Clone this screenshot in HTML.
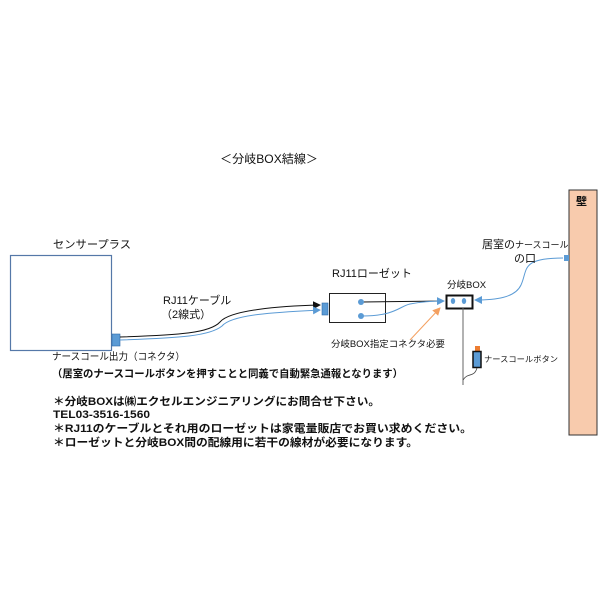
<!DOCTYPE html>
<html><head><meta charset="utf-8"><style>
body{margin:0;background:#fff}
svg text{font-family:"Liberation Sans","Noto Sans CJK JP",sans-serif;fill:#111}
.b{font-weight:bold}
</style></head><body>
<svg width="600" height="600" viewBox="0 0 600 600" xmlns="http://www.w3.org/2000/svg">
<defs>
<marker id="ab" markerWidth="8" markerHeight="8" refX="7" refY="4" orient="auto" markerUnits="userSpaceOnUse"><path d="M0,0 L8,4 L0,8z" fill="#111"/></marker>
<marker id="abl" markerWidth="8" markerHeight="8" refX="7" refY="4" orient="auto" markerUnits="userSpaceOnUse"><path d="M0,0 L8,4 L0,8z" fill="#5b9bd5"/></marker>
<marker id="ao" markerWidth="8" markerHeight="8" refX="7" refY="4" orient="auto" markerUnits="userSpaceOnUse"><path d="M0,0 L8,4 L0,8z" fill="#f4a060"/></marker>
</defs>
<text x="220" y="163" font-size="12" textLength="98" lengthAdjust="spacingAndGlyphs">＜分岐BOX結線＞</text>
<rect x="569" y="190" width="28" height="245" fill="#f8cbad" stroke="#333" stroke-width="1"/>
<text x="576" y="205" font-size="11" class="b">壁</text>
<text x="53" y="248" font-size="11" textLength="78" lengthAdjust="spacingAndGlyphs">センサープラス</text>
<rect x="10.5" y="255.5" width="101" height="95" fill="#fff" stroke="#5578a8" stroke-width="1.2"/>
<rect x="112" y="334" width="8" height="12" fill="#5b9bd5" stroke="#2e6aa8" stroke-width="0.6"/>
<path d="M120,337 C180,335 210,333 220,322 C230,310 280,306 320,305" fill="none" stroke="#111" stroke-width="1" marker-end="url(#ab)"/>
<path d="M120,340 C180,338 210,336 222,326 C232,314 280,312 320,310" fill="none" stroke="#5b9bd5" stroke-width="1" marker-end="url(#abl)"/>
<text x="163" y="304" font-size="11">RJ11ケーブル</text>
<text x="161" y="318" font-size="11">（2線式）</text>
<rect x="322" y="303" width="6" height="12" fill="#5b9bd5" stroke="#2e6aa8" stroke-width="0.6"/>
<rect x="329.5" y="293.5" width="56" height="29" fill="#fff" stroke="#222" stroke-width="1"/>
<text x="332" y="277" font-size="11">RJ11ローゼット</text>
<path d="M362,302 L444,301" fill="none" stroke="#111" stroke-width="1" marker-end="url(#abl)"/>
<path d="M362,316 C395,316 400,306 410,304 C420,302 430,301 444,301" fill="none" stroke="#5b9bd5" stroke-width="1"/>
<circle cx="361" cy="302" r="3" fill="#5b9bd5"/>
<circle cx="361" cy="316" r="3" fill="#5b9bd5"/>
<text x="447" y="288" font-size="9.5">分岐BOX</text>
<rect x="446.5" y="295.5" width="26" height="13" fill="#fff" stroke="#111" stroke-width="2"/>
<ellipse cx="453" cy="301" rx="2.2" ry="3" fill="#5b9bd5"/>
<ellipse cx="464" cy="301" rx="2.2" ry="3" fill="#5b9bd5"/>
<path d="M563,258 C520,258 528,270 521,285 C515,298 495,300 475,300" fill="none" stroke="#5b9bd5" stroke-width="1" marker-end="url(#abl)"/>
<rect x="564" y="255" width="5" height="6" fill="#5b9bd5"/>
<text x="482" y="248" font-size="11">居室の<tspan font-size="9">ナースコール</tspan></text>
<text x="514" y="262" font-size="11">の口</text>
<path d="M410,340 L440,308" fill="none" stroke="#f4a060" stroke-width="1" marker-end="url(#ao)"/>
<text x="331" y="347" font-size="9" textLength="114" lengthAdjust="spacingAndGlyphs">分岐BOX指定コネクタ必要</text>
<path d="M463,308 L463,385" fill="none" stroke="#666" stroke-width="1"/>
<path d="M463,380 C468,372 474,378 477,368" fill="none" stroke="#444" stroke-width="0.8"/>
<rect x="475" y="346" width="5" height="5" fill="#ed7d31"/>
<rect x="473" y="351.5" width="8" height="16" fill="#5b9bd5" stroke="#111" stroke-width="1.5"/>
<text x="484" y="362" font-size="8" textLength="74" lengthAdjust="spacingAndGlyphs">ナースコールボタン</text>
<text x="52" y="360" font-size="10" textLength="133" lengthAdjust="spacingAndGlyphs">ナースコール出力（コネクタ）</text>
<text x="52" y="377" font-size="10.5" class="b" textLength="351" lengthAdjust="spacingAndGlyphs">（居室のナースコールボタンを押すことと同義で自動緊急通報となります）</text>
<text x="53" y="405" font-size="11" class="b" textLength="327" lengthAdjust="spacingAndGlyphs">＊分岐BOXは㈱エクセルエンジニアリングにお問合せ下さい。</text>
<text x="53" y="418" font-size="11" class="b" textLength="97" lengthAdjust="spacingAndGlyphs">TEL03-3516-1560</text>
<text x="53" y="432" font-size="11" class="b" textLength="419" lengthAdjust="spacingAndGlyphs">＊RJ11のケーブルとそれ用のローゼットは家電量販店でお買い求めください。</text>
<text x="53" y="446" font-size="11" class="b" textLength="365" lengthAdjust="spacingAndGlyphs">＊ローゼットと分岐BOX間の配線用に若干の線材が必要になります。</text>
</svg>
</body></html>
